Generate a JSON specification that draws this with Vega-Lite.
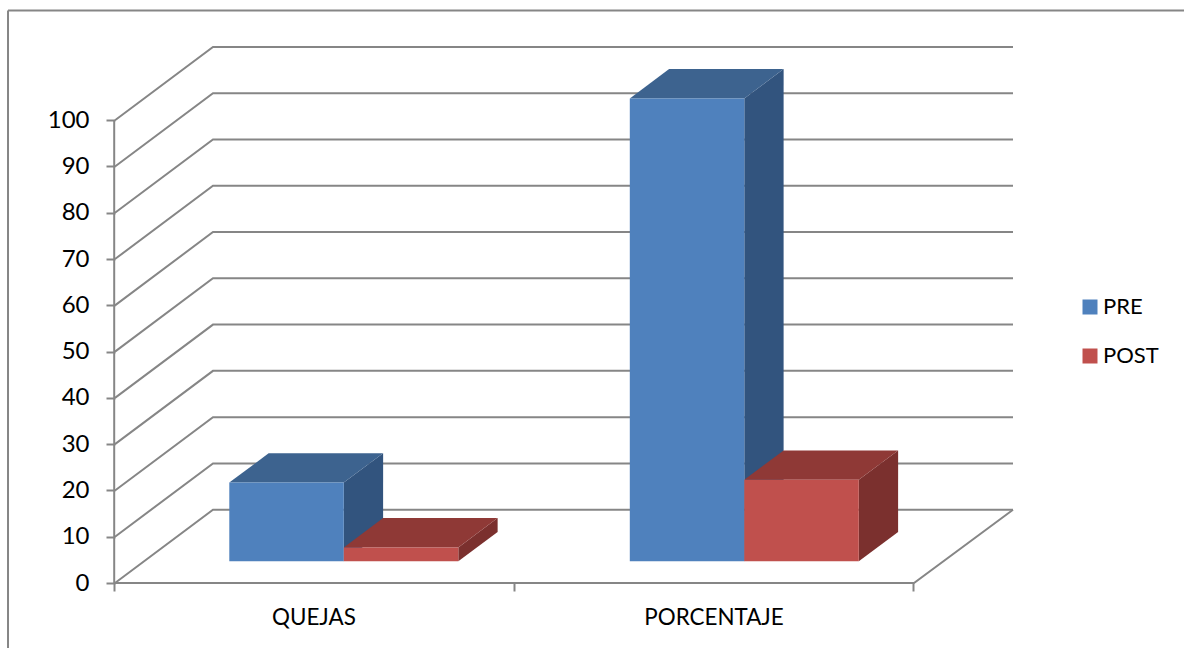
{
  "$schema": "https://vega.github.io/schema/vega-lite/v6.json",
  "width": 898,
  "height": 536,
  "autosize": "none",
  "padding": {"left": 115, "top": 47, "right": 171, "bottom": 65},
  "background": "white",
  "view": {"stroke": null},
  "config": {"font": "Lato", "axis": {"grid": false, "domain": false}},
  "datasets": {
    "barras": [
      {"categoria": "QUEJAS", "serie": "PRE", "valor": 17},
      {"categoria": "QUEJAS", "serie": "POST", "valor": 3},
      {"categoria": "PORCENTAJE", "serie": "PRE", "valor": 100},
      {"categoria": "PORCENTAJE", "serie": "POST", "valor": 17.6}
    ],
    "marcas": [
      {"marca": 0}, {"marca": 10}, {"marca": 20}, {"marca": 30}, {"marca": 40}, {"marca": 50},
      {"marca": 60}, {"marca": 70}, {"marca": 80}, {"marca": 90}, {"marca": 100}
    ],
    "suelo": [
      {"u": 0, "v": 0},
      {"u": 2, "v": 0},
      {"u": 2.2478, "v": 15.84}
    ],
    "categorias": [
      {"categoria": "QUEJAS", "centro": 0.498},
      {"categoria": "PORCENTAJE", "centro": 1.4994}
    ],
    "uno": [{"fila": 1}]
  },
  "layer": [
    {
      "description": "Left edge of the chart frame; the shared scales and both axes are declared here",
      "data": {"name": "uno"},
      "mark": {"type": "rule", "stroke": "#868686", "strokeWidth": 2},
      "encoding": {
        "x": {
          "datum": -0.2678,
          "type": "quantitative",
          "title": null,
          "scale": {"domain": [0, 2.2478], "nice": false, "zero": false},
          "axis": {
            "values": [0, 1, 2],
            "labels": false,
            "tickSize": 8,
            "tickWidth": 2,
            "tickOffset": -1,
            "tickColor": "#868686"
          }
        },
        "y": {
          "datum": 123.7,
          "type": "quantitative",
          "title": null,
          "scale": {"domain": [0, 115.82], "nice": false, "zero": false},
          "axis": {
            "values": [0, 10, 20, 30, 40, 50, 60, 70, 80, 90, 100],
            "tickSize": 9,
            "tickWidth": 2,
            "tickColor": "#868686",
            "labelFont": "Lato",
            "labelFontSize": 24,
            "labelColor": "#000000",
            "labelPadding": 17
          }
        },
        "y2": {"datum": -14.05}
      }
    },
    {
      "description": "Top edge of the chart frame",
      "data": {"name": "uno"},
      "mark": {"type": "rule", "stroke": "#868686", "strokeWidth": 2},
      "encoding": {
        "x": {"datum": -0.2678, "type": "quantitative", "title": null},
        "x2": {"datum": 2.676},
        "y": {"datum": 123.7, "type": "quantitative", "title": null}
      }
    },
    {
      "description": "Vertical value axis line on the front plane",
      "data": {"name": "uno"},
      "mark": {"type": "rule", "stroke": "#868686", "strokeWidth": 2},
      "encoding": {
        "x": {"datum": -0.002, "type": "quantitative", "title": null},
        "y": {"datum": 0, "type": "quantitative", "title": null},
        "y2": {"datum": 100}
      }
    },
    {
      "description": "Side wall and back wall gridlines: each runs from the axis back in depth, then across",
      "data": {"name": "marcas"},
      "transform": [
        {"calculate": "[0, 1, 2]", "as": "t"},
        {"flatten": ["t"]},
        {"calculate": "datum.t === 0 ? 0 : (datum.t === 1 ? 0.2453 : 2.2478)", "as": "gx"},
        {"calculate": "datum.marca + (datum.t === 0 ? 0 : 15.84)", "as": "gy"}
      ],
      "mark": {"type": "line", "stroke": "#868686", "strokeWidth": 2, "interpolate": "linear"},
      "encoding": {
        "x": {"field": "gx", "type": "quantitative", "title": null},
        "y": {"field": "gy", "type": "quantitative", "title": null},
        "detail": {"field": "marca"}
      }
    },
    {
      "description": "Front and right edges of the floor",
      "data": {"name": "suelo"},
      "mark": {"type": "line", "stroke": "#868686", "strokeWidth": 2},
      "encoding": {
        "x": {"field": "u", "type": "quantitative", "title": null},
        "y": {"field": "v", "type": "quantitative", "title": null}
      }
    },
    {
      "description": "Right side faces of the bars",
      "data": {"name": "barras"},
      "transform": [
        {"calculate": "(datum.categoria === 'QUEJAS' ? 0 : 1.0025) + 0.2861 + (datum.serie === 'PRE' ? 0 : 0.2866)", "as": "x0"},
        {"calculate": "[0, 1]", "as": "t"},
        {"flatten": ["t"]},
        {"calculate": "datum.x0 + 0.2866 + datum.t * 0.0984", "as": "ax"},
        {"calculate": "4.69 + datum.valor + datum.t * 6.35", "as": "ay"},
        {"calculate": "4.69 + datum.t * 6.35", "as": "ay2"}
      ],
      "mark": {"type": "area", "orient": "vertical", "interpolate": "linear"},
      "encoding": {
        "x": {"field": "ax", "type": "quantitative", "title": null},
        "y": {"field": "ay", "type": "quantitative", "title": null, "stack": null},
        "y2": {"field": "ay2"},
        "detail": {"field": "categoria"},
        "color": {
          "field": "serie",
          "type": "nominal",
          "scale": {"domain": ["PRE", "POST"], "range": ["#32547e", "#7b302e"]},
          "legend": null
        }
      }
    },
    {
      "description": "Top faces of the bars",
      "data": {"name": "barras"},
      "transform": [
        {"calculate": "(datum.categoria === 'QUEJAS' ? 0 : 1.0025) + 0.2861 + (datum.serie === 'PRE' ? 0 : 0.2866)", "as": "x0"},
        {"calculate": "4.69 + datum.valor", "as": "techo"},
        {"calculate": "[0, 1, 2, 3]", "as": "t"},
        {"flatten": ["t"]},
        {"calculate": "datum.x0 + (datum.t === 0 ? 0 : datum.t === 1 ? 0.0984 : datum.t === 2 ? 0.2866 : 0.385)", "as": "ax"},
        {"calculate": "datum.techo + (datum.t === 0 ? 0 : 6.35)", "as": "ay"},
        {"calculate": "datum.techo + (datum.t === 3 ? 6.35 : 0)", "as": "ay2"}
      ],
      "mark": {"type": "area", "orient": "vertical", "interpolate": "linear"},
      "encoding": {
        "x": {"field": "ax", "type": "quantitative", "title": null},
        "y": {"field": "ay", "type": "quantitative", "title": null, "stack": null},
        "y2": {"field": "ay2"},
        "detail": {"field": "categoria"},
        "color": {
          "field": "serie",
          "type": "nominal",
          "scale": {"domain": ["PRE", "POST"], "range": ["#3d638f", "#8f3936"]},
          "legend": null
        }
      }
    },
    {
      "description": "Front faces of the bars, which also carry the legend",
      "data": {"name": "barras"},
      "transform": [
        {"calculate": "(datum.categoria === 'QUEJAS' ? 0 : 1.0025) + 0.2861 + (datum.serie === 'PRE' ? 0 : 0.2866)", "as": "x0"},
        {"calculate": "datum.x0 + 0.2866", "as": "x1"},
        {"calculate": "4.69 + datum.valor", "as": "techo"},
        {"calculate": "4.69", "as": "base"}
      ],
      "mark": {"type": "rect"},
      "encoding": {
        "x": {"field": "x0", "type": "quantitative", "title": null},
        "x2": {"field": "x1"},
        "y": {"field": "techo", "type": "quantitative", "title": null},
        "y2": {"field": "base"},
        "color": {
          "field": "serie",
          "type": "nominal",
          "scale": {"domain": ["PRE", "POST"], "range": ["#4f81bd", "#c0504d"]},
          "legend": {
            "title": null,
            "orient": "none",
            "legendX": 964,
            "legendY": 249,
            "padding": 0,
            "symbolType": "square",
            "symbolSize": 225,
            "symbolStrokeWidth": 0,
            "labelFont": "Lato",
            "labelFontSize": 22,
            "labelColor": "#000000",
            "labelOffset": 2,
            "rowPadding": 27
          }
        }
      }
    },
    {
      "description": "Category names below the floor",
      "data": {"name": "categorias"},
      "mark": {"type": "text", "font": "Lato", "fontSize": 22.4, "color": "#000000", "align": "center", "baseline": "middle"},
      "encoding": {
        "x": {"field": "centro", "type": "quantitative", "title": null},
        "y": {"datum": -7.6, "type": "quantitative", "title": null},
        "text": {"field": "categoria"}
      }
    }
  ],
  "resolve": {"scale": {"color": "independent"}}
}
